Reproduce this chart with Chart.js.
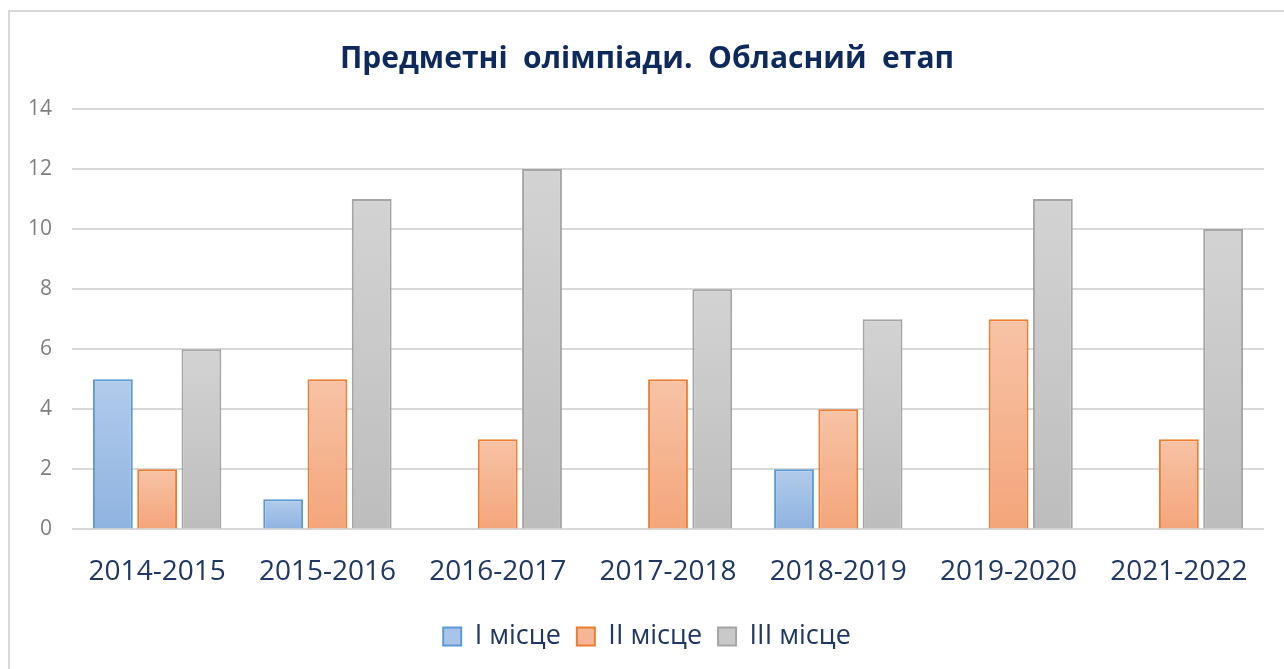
<!DOCTYPE html>
<html>
<head>
<meta charset="utf-8">
<script src="https://cdn.jsdelivr.net/npm/chart.js@4"></script>
<style>
  html, body { margin: 0; padding: 0; background: #fff; overflow: hidden; }
  #frame { position: absolute; left: 8px; top: 10px; width: 1300px; height: 700px; border: 2px solid #d9d9d9; }
  #wrap { position: absolute; left: 0; top: 0; width: 1284px; height: 669px; }
</style>
</head>
<body>
<div id="frame"></div>
<div id="wrap"><canvas id="barChart"></canvas></div>
<script>
// --- Data ---
const years = ["2014-2015", "2015-2016", "2016-2017", "2017-2018", "2018-2019", "2019-2020", "2021-2022"];
const place1 = [5, 1, null, null, 2, null, null];
const place2 = [2, 5, 3, 5, 4, 7, 3];
const place3 = [6, 11, 12, 8, 7, 11, 10];

const navy = "#1f3864";

// gradient for each bar, lighter on top
const barGradient = (top, bottom) => (context) => {
  const chart = context.chart;
  const { chartArea, scales } = chart;
  if (!chartArea || context.type !== "data") return top;
  const v = context.raw;
  if (v == null) return top;
  const yTop = scales.y.getPixelForValue(v);
  const yBase = scales.y.getPixelForValue(0);
  if (!isFinite(yTop) || yTop === yBase) return top;
  const g = chart.ctx.createLinearGradient(0, yTop, 0, yBase);
  g.addColorStop(0, top);
  g.addColorStop(1, bottom);
  return g;
};

const ctx = document.getElementById("barChart").getContext("2d");
new Chart(ctx, {
  type: "bar",
  data: {
    labels: years,
    datasets: [
      {
        label: "I місце",
        data: place1,
        backgroundColor: barGradient("#b1cbeb", "#8fb3e0"),
        borderColor: "#5b9bd5",
        borderWidth: 2,
      },
      {
        label: "II місце",
        data: place2,
        backgroundColor: barGradient("#f7c3a6", "#f4a57a"),
        borderColor: "#ed7d31",
        borderWidth: 2,
      },
      {
        label: "III місце",
        data: place3,
        backgroundColor: barGradient("#d3d3d3", "#bdbdbd"),
        borderColor: "#a5a5a5",
        borderWidth: 2,
      },
    ],
  },
  options: {
    responsive: true,
    maintainAspectRatio: false,
    animation: false,
    layout: { padding: { left: 30, right: 20, top: 41, bottom: 9 } },
    datasets: { bar: { categoryPercentage: 0.78, barPercentage: 0.9 } },
    plugins: {
      title: {
        display: true,
        text: "Предметні  олімпіади.  Обласний  етап",
        color: "#0e2a5c",
        font: { family: "Open Sans", size: 30, weight: "bold" },
        padding: { top: 0, bottom: 32 },
      },
      legend: {
        position: "bottom",
        labels: {
          color: navy,
          font: { family: "Open Sans", size: 27 },
          boxWidth: 18,
          boxHeight: 18,
          padding: 16,
          generateLabels: (chart) =>
            chart.data.datasets.map((ds, i) => ({
              text: ds.label,
              fillStyle: ["#a8c4e8", "#f6b594", "#c9c9c9"][i],
              strokeStyle: ds.borderColor,
              lineWidth: 2,
              fontColor: navy,
              datasetIndex: i,
            })),
        },
      },
      tooltip: { enabled: false },
    },
    scales: {
      x: {
        grid: { display: false },
        border: { display: false },
        ticks: { color: navy, font: { family: "Open Sans", size: 28 }, padding: 18 },
      },
      y: {
        min: 0,
        max: 14,
        ticks: { stepSize: 2, color: "#7f7f7f", font: { family: "Open Sans", size: 21 }, padding: 20 },
        grid: { color: "#d9d9d9", lineWidth: 2, drawTicks: false },
        border: { display: false },
        afterFit: (scale) => { scale.width = 42; },
      },
    },
  },
});
</script>
</body>
</html>
